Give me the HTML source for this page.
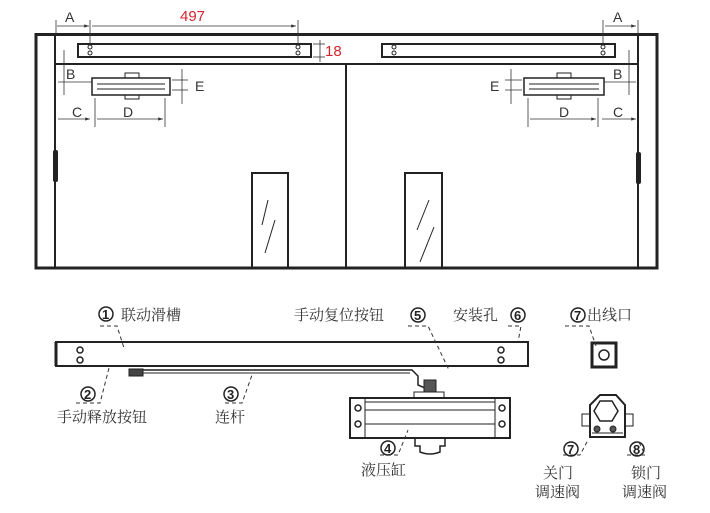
<!DOCTYPE html>
<html><head><meta charset="utf-8"><style>
html,body{margin:0;padding:0;background:#fff;}
svg{display:block;}
text{font-family:"Liberation Sans","Noto Sans CJK SC",sans-serif;}
.cn{font-family:"Noto Serif CJK SC","Noto Sans CJK SC",serif;font-size:15px;fill:#333;}
</style></head><body>
<svg width="710" height="513" viewBox="0 0 710 513" xmlns="http://www.w3.org/2000/svg">
<defs>
<marker id="ar" markerWidth="6" markerHeight="6" refX="6" refY="3" orient="auto"><path d="M0,1 L6,3 L0,5" fill="#333"/></marker>
</defs>
<g fill="none" stroke="#222">
<!-- frame -->
<rect x="36" y="34.5" width="621" height="233.5" stroke-width="3"/>
<line x1="55" y1="35" x2="55" y2="268" stroke-width="2"/>
<line x1="638" y1="35" x2="638" y2="268" stroke-width="2"/>
<line x1="55" y1="64" x2="638" y2="64" stroke-width="2"/>
<line x1="346" y1="64" x2="346" y2="268" stroke-width="2"/>
<!-- tracks -->
<rect x="78" y="44" width="233" height="13" stroke-width="2"/>
<rect x="382" y="44" width="233" height="13" stroke-width="2"/>
<g stroke-width="1"><circle cx="90" cy="47" r="2"/><circle cx="90" cy="53" r="2"/><circle cx="298" cy="47" r="2"/><circle cx="298" cy="53" r="2"/>
<circle cx="394" cy="47" r="2"/><circle cx="394" cy="53" r="2"/><circle cx="603" cy="47" r="2"/><circle cx="603" cy="53" r="2"/></g>
<!-- closers -->
<rect x="92" y="78" width="78" height="17" stroke-width="1.5"/>
<line x1="97" y1="84" x2="165" y2="84"/><line x1="97" y1="89" x2="165" y2="89"/>
<rect x="125" y="73" width="14" height="5"/><rect x="125" y="95" width="14" height="4"/>
<rect x="524" y="78" width="80" height="17" stroke-width="1.5"/>
<line x1="529" y1="84" x2="599" y2="84"/><line x1="529" y1="89" x2="599" y2="89"/>
<rect x="557" y="73" width="14" height="5"/><rect x="557" y="95" width="14" height="4"/>
<!-- glass -->
<rect x="252" y="173" width="36" height="95" stroke-width="2"/>
<rect x="405" y="173" width="37" height="95" stroke-width="2"/>
<line x1="268" y1="200" x2="262" y2="225"/><line x1="275" y1="220" x2="265" y2="253"/>
<line x1="429" y1="200" x2="417" y2="230"/><line x1="434" y1="227" x2="420" y2="262"/>
</g>
<!-- hinges -->
<rect x="53" y="150" width="5" height="32" rx="2" fill="#222"/>
<rect x="636" y="152" width="5" height="32" rx="2" fill="#222"/>
<!-- dimensions -->
<g stroke="#333" stroke-width="0.8" fill="none">
<line x1="56" y1="20" x2="56" y2="34"/><line x1="90" y1="20" x2="90" y2="44"/>
<line x1="57" y1="26" x2="89" y2="26" marker-end="url(#ar)"/>
<line x1="92" y1="26" x2="296" y2="26" marker-end="url(#ar)"/>
<line x1="298" y1="20" x2="298" y2="44"/>
<line x1="313" y1="44" x2="325" y2="44"/><line x1="313" y1="57" x2="325" y2="57"/><line x1="320" y1="40" x2="320" y2="62"/>
<line x1="64" y1="50" x2="64" y2="95"/><line x1="58" y1="82" x2="92" y2="82"/>
<line x1="182" y1="69" x2="182" y2="104"/><line x1="172" y1="80" x2="188" y2="80"/><line x1="172" y1="90" x2="188" y2="90"/>
<line x1="58" y1="119" x2="90" y2="119" marker-end="url(#ar)"/>
<line x1="95" y1="98" x2="95" y2="127"/><line x1="165" y1="98" x2="165" y2="127"/>
<line x1="97" y1="119" x2="163" y2="119" marker-end="url(#ar)"/>
<line x1="603" y1="20" x2="603" y2="44"/><line x1="638" y1="20" x2="638" y2="34"/>
<line x1="605" y1="26" x2="636" y2="26" marker-end="url(#ar)"/>
<line x1="629" y1="50" x2="629" y2="95"/><line x1="604" y1="82" x2="636" y2="82"/>
<line x1="511" y1="69" x2="511" y2="104"/><line x1="505" y1="80" x2="522" y2="80"/><line x1="505" y1="90" x2="522" y2="90"/>
<line x1="528" y1="98" x2="528" y2="127"/><line x1="598" y1="98" x2="598" y2="127"/>
<line x1="530" y1="119" x2="596" y2="119" marker-end="url(#ar)"/>
<line x1="602" y1="119" x2="636" y2="119" marker-end="url(#ar)"/>
</g>
<g font-size="14" fill="#333">
<text x="65" y="22">A</text><text x="613" y="22">A</text>
<text x="66" y="79">B</text><text x="613" y="79">B</text>
<text x="195" y="91">E</text><text x="490" y="91">E</text>
<text x="72" y="117">C</text><text x="613" y="117">C</text>
<text x="123" y="117">D</text><text x="559" y="117">D</text>
<text x="180" y="21" fill="#d4242e" font-size="15">497</text>
<text x="325" y="56" fill="#d4242e" font-size="15">18</text>
</g>
<!-- bottom assembly -->
<g fill="none" stroke="#222">
<rect x="56" y="342" width="472" height="24" stroke-width="2"/>
<line x1="56" y1="342" x2="56" y2="366" stroke-width="3"/>
<g stroke-width="1.5"><circle cx="80" cy="350" r="3"/><circle cx="80" cy="360" r="3"/><circle cx="501" cy="350" r="3"/><circle cx="501" cy="360" r="3"/></g>
<path d="M130,370 H412 L418,376 V385 L425,388" stroke-width="1.5"/>
<line x1="130" y1="373" x2="410" y2="373"/>
<rect x="129" y="369" width="14" height="7" fill="#444"/>
<rect x="350" y="398" width="160" height="40" stroke-width="2"/>
<line x1="365" y1="402" x2="495" y2="402"/><line x1="365" y1="410" x2="495" y2="410"/><line x1="365" y1="424" x2="495" y2="424"/>
<line x1="365" y1="398" x2="365" y2="438"/><line x1="495" y1="398" x2="495" y2="438"/>
<g stroke-width="1.5"><circle cx="358" cy="408" r="3"/><circle cx="358" cy="424" r="3"/><circle cx="502" cy="408" r="3"/><circle cx="502" cy="424" r="3"/></g>
<rect x="414" y="392" width="30" height="6"/>
<rect x="424" y="380" width="12" height="12" fill="#555"/>
<path d="M415,438 V446 H420 V452 Q430,456 440,452 V446 H445 V438" stroke-width="1.5"/>
<rect x="592" y="343" width="24" height="24" stroke-width="3"/>
<circle cx="604" cy="355" r="5" stroke-width="1.5"/>
<path d="M590,437 V405 L600,395 H616 L625,405 V437 Z" stroke-width="2"/>
<polygon points="600,401 612,401 618,411 612,421 600,421 594,411" stroke-width="1.5"/>
<rect x="582" y="414" width="8" height="12"/><rect x="625" y="414" width="8" height="12"/>
<circle cx="597" cy="429" r="3" fill="#555"/><circle cx="613" cy="429" r="3" fill="#555"/>
<line x1="592" y1="433" x2="623" y2="433"/>
</g>
<!-- leader dashes -->
<g stroke="#333" stroke-width="1" stroke-dasharray="4,3" fill="none">
<path d="M100,326 H117 L124,348"/>
<path d="M76,403 H100 L109,368"/>
<path d="M225,403 H242 L252,375"/>
<path d="M408,326 H428 L449,370"/>
<path d="M508,326 H521 L518,342"/>
<path d="M380,455 H398 L408,430"/>
<path d="M565,326 H589 L596,346"/>
<path d="M563,455 H580 L588,440"/>
<path d="M627,455 H645 L639,442"/>
</g>
<g font-size="13" font-weight="bold" fill="#222">
<circle cx="106" cy="314" r="7" fill="none" stroke="#222" stroke-width="1.5"/><text x="102" y="319">1</text>
<circle cx="88" cy="394" r="7" fill="none" stroke="#222" stroke-width="1.5"/><text x="84" y="399">2</text>
<circle cx="231" cy="394" r="7" fill="none" stroke="#222" stroke-width="1.5"/><text x="227" y="399">3</text>
<circle cx="388" cy="448" r="7" fill="none" stroke="#222" stroke-width="1.5"/><text x="384" y="453">4</text>
<circle cx="418" cy="315" r="7" fill="none" stroke="#222" stroke-width="1.5"/><text x="414" y="320">5</text>
<circle cx="518" cy="315" r="7" fill="none" stroke="#222" stroke-width="1.5"/><text x="514" y="320">6</text>
<circle cx="578" cy="315" r="7" fill="none" stroke="#222" stroke-width="1.5"/><text x="574" y="320">7</text>
<circle cx="571" cy="449" r="7" fill="none" stroke="#222" stroke-width="1.5"/><text x="567" y="454">7</text>
<circle cx="637" cy="449" r="7" fill="none" stroke="#222" stroke-width="1.5"/><text x="633" y="454">8</text>
</g>
<text class="cn" x="121" y="320">联动滑槽</text>
<text class="cn" x="57" y="422">手动释放按钮</text>
<text class="cn" x="215" y="422">连杆</text>
<text class="cn" x="361" y="475">液压缸</text>
<text class="cn" x="294" y="320">手动复位按钮</text>
<text class="cn" x="453" y="320">安装孔</text>
<text class="cn" x="587" y="320">出线口</text>
<text class="cn" x="543" y="478">关门</text>
<text class="cn" x="535" y="497">调速阀</text>
<text class="cn" x="631" y="478">锁门</text>
<text class="cn" x="622" y="497">调速阀</text>
</svg>
</body></html>
